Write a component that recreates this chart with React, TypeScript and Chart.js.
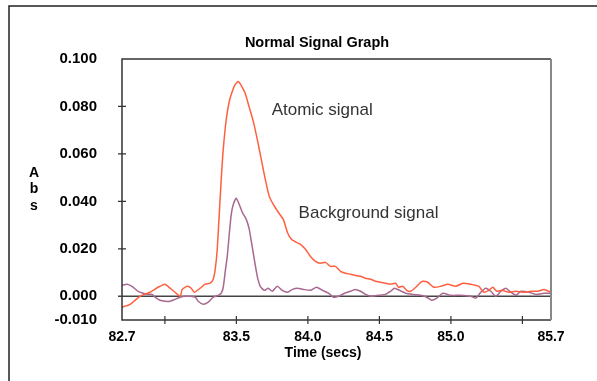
import React, { useEffect, useRef } from "react";
import { Chart, registerables } from "chart.js";

Chart.register(...registerables);

// ---- data ----
const atomicTimes = [
  82.7, 82.756, 82.826, 82.896, 82.952, 83.001, 83.036, 83.071, 83.107, 83.121,
  83.156, 83.184, 83.205, 83.247, 83.282, 83.317, 83.338, 83.352, 83.366, 83.38,
  83.394, 83.408, 83.429, 83.45, 83.471, 83.492, 83.513, 83.534, 83.562, 83.59,
  83.618, 83.646, 83.674, 83.702, 83.73, 83.758, 83.793, 83.828, 83.857, 83.885,
  83.92, 83.948, 83.983, 84.018, 84.053, 84.088, 84.123, 84.158, 84.193, 84.228,
  84.263, 84.298, 84.333, 84.368, 84.403, 84.438, 84.473, 84.508, 84.543, 84.578,
  84.613, 84.634, 84.663, 84.691, 84.719, 84.754, 84.782, 84.803, 84.838, 84.88,
  84.929, 84.978, 85.034, 85.083, 85.139, 85.195, 85.23, 85.265, 85.293, 85.321,
  85.356, 85.406, 85.455, 85.504, 85.56, 85.609, 85.651, 85.7,
];
const atomicSignal = [
  -0.0046, -0.0034, 0.0, 0.0017, 0.0038, 0.0051, 0.0034, 0.0017, 0.0, 0.0029,
  0.0042, 0.0034, 0.0017, 0.0034, 0.0051, 0.0055, 0.0072, 0.0114, 0.0198, 0.0345,
  0.0493, 0.0619, 0.0745, 0.0821, 0.0863, 0.0893, 0.0905, 0.0888, 0.0855, 0.0796,
  0.0737, 0.0661, 0.0577, 0.0493, 0.0421, 0.0387, 0.0354, 0.0324, 0.0269, 0.024,
  0.0227, 0.0219, 0.0198, 0.0168, 0.0147, 0.0139, 0.0143, 0.0126, 0.0126, 0.0105,
  0.0097, 0.0093, 0.0088, 0.0084, 0.0076, 0.0072, 0.0063, 0.0059, 0.0055, 0.0051,
  0.0055, 0.0038, 0.0042, 0.0025, 0.0021, 0.0038, 0.0055, 0.0063, 0.0059, 0.0038,
  0.0042, 0.0051, 0.0042, 0.0055, 0.0051, 0.0042, 0.0017, 0.0025, 0.0038, 0.0021,
  0.0025, 0.0017, 0.0021, 0.0017, 0.0021, 0.0021, 0.0029, 0.0017,
];
const backgroundTimes = [
  82.7, 82.735, 82.77, 82.812, 82.847, 82.882, 82.91, 82.931, 82.966, 83.001,
  83.036, 83.071, 83.107, 83.142, 83.177, 83.212, 83.233, 83.268, 83.303, 83.338,
  83.373, 83.394, 83.408, 83.422, 83.436, 83.45, 83.464, 83.478, 83.499, 83.52,
  83.541, 83.569, 83.59, 83.604, 83.625, 83.646, 83.667, 83.695, 83.723, 83.751,
  83.786, 83.821, 83.857, 83.892, 83.927, 83.969, 84.018, 84.06, 84.102, 84.144,
  84.179, 84.214, 84.256, 84.298, 84.333, 84.368, 84.403, 84.445, 84.494, 84.543,
  84.578, 84.606, 84.641, 84.684, 84.733, 84.789, 84.831, 84.866, 84.901, 84.943,
  84.999, 85.069, 85.139, 85.174, 85.209, 85.244, 85.279, 85.314, 85.349, 85.384,
  85.419, 85.455, 85.49, 85.546, 85.595, 85.651, 85.7,
];
const backgroundSignal = [
  0.0046, 0.0051, 0.0042, 0.0021, 0.0013, 0.0008, 0.0008, -0.0004, -0.0017, -0.0021,
  -0.0021, -0.0013, -0.0004, 0.0, 0.0, -0.0004, -0.0021, -0.0034, -0.0025, -0.0004,
  0.0004, 0.0013, 0.0038, 0.0105, 0.0168, 0.0261, 0.0345, 0.0387, 0.0413, 0.0387,
  0.0354, 0.0324, 0.0282, 0.0232, 0.0156, 0.0084, 0.0042, 0.0025, 0.0034, 0.0021,
  0.0042, 0.0025, 0.0017, 0.0029, 0.0034, 0.0029, 0.0025, 0.0038, 0.0025, 0.0013,
  -0.0004, 0.0, 0.0013, 0.0021, 0.0029, 0.0021, 0.0008, 0.0, 0.0004, 0.0008,
  0.0021, 0.0034, 0.0025, 0.0013, 0.0008, 0.0004, -0.0004, -0.0017, -0.0008, 0.0013,
  0.0004, 0.0004, 0.0, -0.0008, 0.0017, 0.0034, 0.0021, 0.0, 0.0021, 0.0034,
  0.0017, 0.0004, 0.0021, 0.0017, 0.0008, 0.0013, 0.0013,
];
const yTickValues = [0.1, 0.08, 0.06, 0.04, 0.02, 0.0, -0.01];
const yTickMarks = [0.08, 0.06, 0.04, 0.02];
const xTickLabelValues = [82.7, 83.5, 84.0, 84.5, 85.0, 85.7];
const xTickMarks = [83.0, 83.5, 84.0, 84.5, 85.0, 85.5];
const chartTitle = "Normal Signal Graph";
const xAxisTitle = "Time (secs)";
const yAxisTitle = ["A", "b", "s"];
const annotations = [
  { text: "Atomic signal", x: 84.1, y: 0.0783 },
  { text: "Background signal", x: 84.424, y: 0.035 },
];

const FONT = '"Liberation Sans", Arial, Helvetica, sans-serif';

const decorPlugin = {
  id: "decor",
  beforeDatasetsDraw(chart: any) {
    const { ctx, chartArea, scales } = chart;
    const y0 = scales.y.getPixelForValue(0);
    ctx.save();
    ctx.strokeStyle = "#444";
    ctx.lineWidth = 1.5;
    ctx.beginPath();
    ctx.moveTo(chartArea.left - 4, y0);
    ctx.lineTo(chartArea.right, y0);
    ctx.stroke();
    ctx.restore();
  },
  afterDatasetsDraw(chart: any) {
    const { ctx, chartArea, scales } = chart;
    const { left, right, top, bottom } = chartArea;
    ctx.save();
    // outer frame (open at right/bottom)
    ctx.strokeStyle = "#222";
    ctx.lineWidth = 1.5;
    ctx.beginPath();
    ctx.moveTo(9, chart.height);
    ctx.lineTo(9, 6);
    ctx.lineTo(chart.width, 6);
    ctx.stroke();
    // plot frame
    ctx.strokeStyle = "#333";
    ctx.lineWidth = 1.5;
    ctx.beginPath();
    ctx.moveTo(right, top);
    ctx.lineTo(left, top);
    ctx.lineTo(left, bottom);
    ctx.lineTo(right, bottom);
    ctx.stroke();
    ctx.strokeStyle = "#888";
    ctx.lineWidth = 2;
    ctx.beginPath();
    ctx.moveTo(right, top);
    ctx.lineTo(right, bottom);
    ctx.stroke();
    // tick marks
    ctx.strokeStyle = "#333";
    ctx.lineWidth = 1.2;
    ctx.beginPath();
    yTickMarks.forEach((v) => {
      const py = scales.y.getPixelForValue(v);
      ctx.moveTo(left - 4, py);
      ctx.lineTo(left + 4, py);
    });
    xTickMarks.forEach((v) => {
      const px = scales.x.getPixelForValue(v);
      ctx.moveTo(px, bottom - 4);
      ctx.lineTo(px, bottom + 4);
    });
    ctx.stroke();
    // titles
    ctx.fillStyle = "#000";
    ctx.textAlign = "center";
    ctx.textBaseline = "middle";
    ctx.font = `bold 14.5px ${FONT}`;
    ctx.fillText(chartTitle, 317, 43);
    ctx.font = `bold 14px ${FONT}`;
    ctx.fillText(xAxisTitle, 323, 353);
    yAxisTitle.forEach((ch, i) => ctx.fillText(ch, 34, 173 + i * 16.5));
    // annotations
    ctx.fillStyle = "#333";
    ctx.font = `17px ${FONT}`;
    annotations.forEach((a) => {
      ctx.fillText(a.text, scales.x.getPixelForValue(a.x), scales.y.getPixelForValue(a.y));
    });
    ctx.restore();
  },
};

export default function App() {
  const ref = useRef<HTMLCanvasElement | null>(null);
  useEffect(() => {
    if (!ref.current) return;
    const chart = new Chart(ref.current, {
      type: "line",
      data: {
        datasets: [
          {
            label: "Atomic signal",
            data: atomicTimes.map((t, i) => ({ x: t, y: atomicSignal[i] })),
            borderColor: "#FF6040",
            borderWidth: 1.5,
            pointRadius: 0,
            tension: 0.2,
            fill: false,
          },
          {
            label: "Background signal",
            data: backgroundTimes.map((t, i) => ({ x: t, y: backgroundSignal[i] })),
            borderColor: "#A86890",
            borderWidth: 1.5,
            pointRadius: 0,
            tension: 0.2,
            fill: false,
          },
        ],
      },
      options: {
        animation: false,
        responsive: false,
        events: [],
        layout: { padding: { top: 59, right: 46, bottom: 21, left: 0 } },
        plugins: { legend: { display: false }, title: { display: false }, tooltip: { enabled: false } },
        scales: {
          x: {
            type: "linear",
            min: 82.7,
            max: 85.7,
            grid: { display: false, drawTicks: false },
            border: { display: false },
            afterBuildTicks: (s: any) => {
              s.ticks = xTickLabelValues.map((v) => ({ value: v }));
            },
            afterFit: (s: any) => {
              s.height = 40;
            },
            ticks: {
              autoSkip: false,
              maxRotation: 0,
              padding: 9,
              color: "#000",
              font: { family: FONT, size: 14, weight: "bold" },
              callback: (v: any) => Number(v).toFixed(1),
            },
          },
          y: {
            type: "linear",
            min: -0.01,
            max: 0.1,
            grid: { display: false, drawTicks: false },
            border: { display: false },
            afterBuildTicks: (s: any) => {
              s.ticks = yTickValues.map((v) => ({ value: v }));
            },
            afterFit: (s: any) => {
              s.width = 122;
            },
            ticks: {
              autoSkip: false,
              padding: 25,
              color: "#000",
              font: { family: FONT, size: 15, weight: "bold" },
              callback: (v: any) => Number(v).toFixed(3),
            },
          },
        },
      } as any,
      plugins: [decorPlugin],
    });
    return () => chart.destroy();
  }, []);
  return (
    <div style={{ position: "absolute", left: 0, top: 0, width: 597, height: 381, background: "#fff" }}>
      <canvas ref={ref} width={597} height={381} />
    </div>
  );
}
